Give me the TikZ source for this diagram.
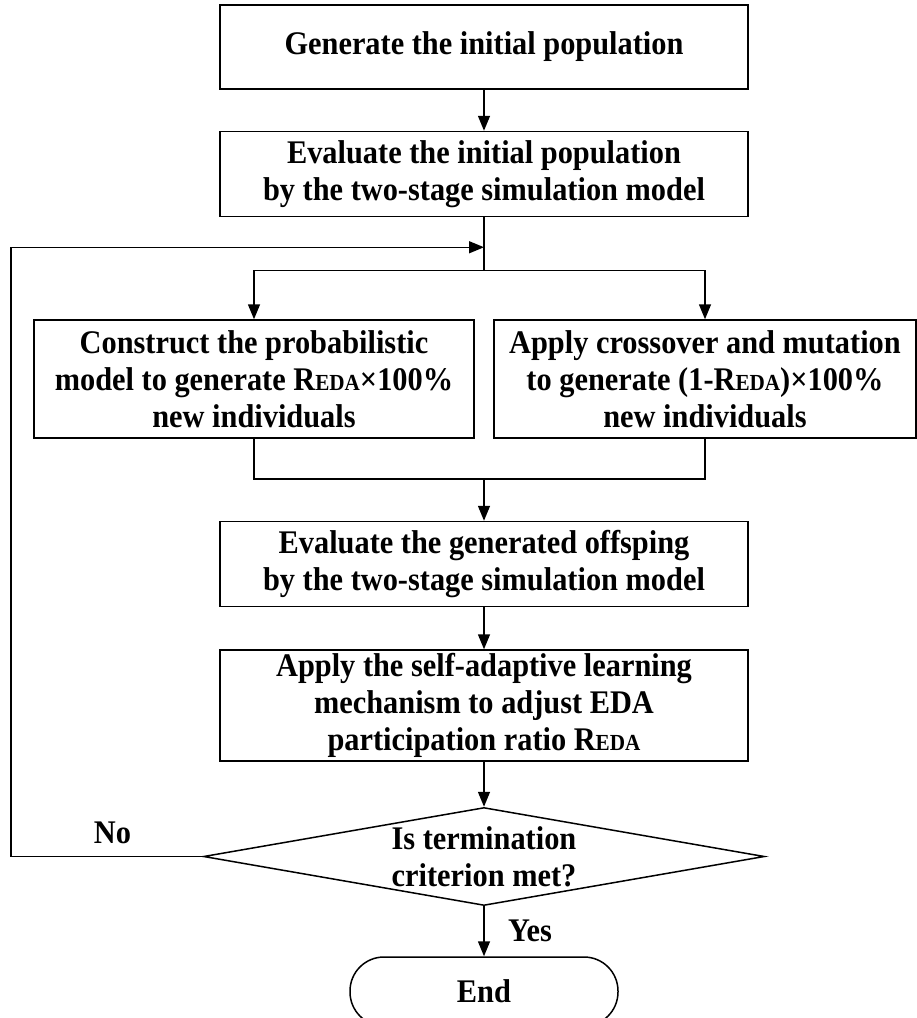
\documentclass[tikz,border=0pt]{standalone}
\usepackage{fontspec}
\setmainfont{Liberation Serif}[FakeStretch=0.92]
\usepackage{tikz}
\usetikzlibrary{shapes.geometric, arrows.meta, positioning, calc}
\tikzstyle{process} = [rectangle, minimum width=528pt, minimum height=85pt, align=center, draw=black, fill=white, line width=1.5pt, font=\fontsize{33}{37}\selectfont\bfseries]
\tikzstyle{halfbox} = [process, minimum height=118pt]
\tikzstyle{decision} = [diamond, aspect=5.7, inner sep=0pt, minimum width=561pt, minimum height=98pt, align=center, draw=black, fill=white, line width=1.5pt, font=\fontsize{33}{37}\selectfont\bfseries]
\tikzstyle{startstop} = [rectangle, rounded corners=34pt, minimum width=268pt, minimum height=69pt, draw=black, fill=white, line width=1.5pt, font=\fontsize{33}{37}\selectfont\bfseries]
\tikzstyle{arrow} = [line width=1.5pt, -{Triangle[length=15pt, width=12pt]}]
\tikzstyle{connector} = [line width=1.5pt]
\tikzstyle{lbl} = [font=\fontsize{33}{37}\selectfont\bfseries]
\newcommand{\reda}{R{\fontsize{23}{23}\selectfont EDA}}

\begin{document}
\begin{tikzpicture}[x=1pt, y=1pt]
\useasboundingbox (0,0) rectangle (917,-1018);

\node (gen) [process, minimum height=84pt] at (484,-47) {Generate the initial population};
\node (evalinit) [process, below=41pt of gen] {Evaluate the initial population\\by the two-stage simulation model};
\coordinate (back) at ($(evalinit.south)+(0,-30)$);
\coordinate (fork) at ($(evalinit.south)+(0,-53)$);
\node (eda) [halfbox, minimum width=440pt, below=102pt of evalinit, xshift=-230pt] {Construct the probabilistic\\model to generate \reda×100\%\\new individuals};
\node (ga) [halfbox, minimum width=422pt, below=102pt of evalinit, xshift=221pt] {Apply crossover and mutation\\to generate (1-\reda)×100\%\\new individuals};
\coordinate (join) at ($(eda.south -| evalinit.south)+(0,-40)$);
\node (evalgen) [process, below=42pt of join] {Evaluate the generated offsping\\by the two-stage simulation model};
\node (adapt) [process, minimum height=111pt, below=42pt of evalgen] {Apply the self-adaptive learning\\mechanism to adjust EDA\\participation ratio \reda};
\node (stop) [decision, below=45pt of adapt] {Is termination\\criterion met?};
\node (end) [startstop, below=50pt of stop] {End};

\draw [arrow] (gen) -- (evalinit);
\draw [connector] (evalinit) -- (fork);
\draw [arrow] (fork) -| (eda);
\draw [arrow] (fork) -| (ga);
\draw [connector] (eda) |- (join);
\draw [connector] (ga) |- (join);
\draw [arrow] (join) -- (evalgen);
\draw [arrow] (evalgen) -- (adapt);
\draw [arrow] (adapt) -- (stop);
\draw [arrow] (stop) -- node[lbl, right=20pt] {Yes} (end);
\draw [arrow] (stop.west) -- node[lbl, above=9pt, pos=0.47] {No} ++(-192,0) |- (back);

\end{tikzpicture}
\end{document}
